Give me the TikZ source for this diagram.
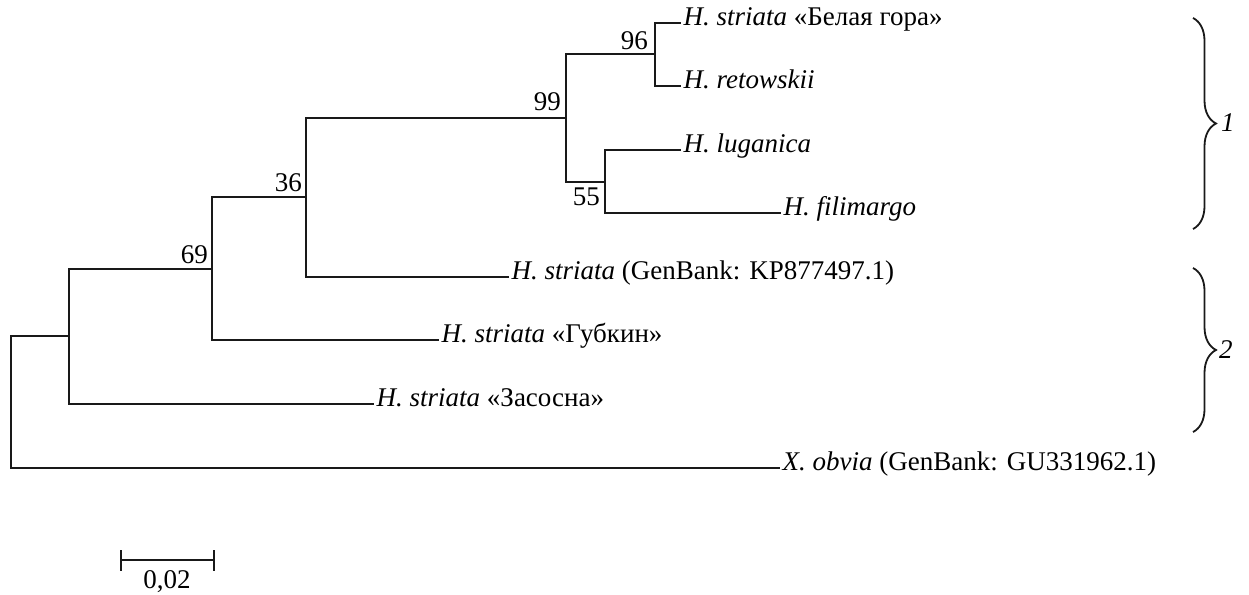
\documentclass[tikz,border=0pt]{standalone}
\usepackage{fontspec}
\setmainfont{Liberation Serif}
\usetikzlibrary{decorations.pathreplacing}
\newcommand{\treefont}{\fontsize{27}{32}\selectfont}
\begin{document}
\begin{tikzpicture}[x=1pt,y=-1pt,
  branch/.style={line width=2.9pt, line cap=rect, line join=miter, draw=black!90},
  leaf/.style={anchor=mid west, inner xsep=3.5pt, inner ysep=0pt, font=\treefont},
  support/.style={anchor=base east, inner sep=0pt, font=\treefont},
  clade/.style={decorate, decoration={brace, amplitude=23pt}, line width=1.8pt, draw=black!90},
  cladenum/.style={anchor=west, inner sep=0pt, font=\treefont\itshape}]
\useasboundingbox (0,0) rectangle (1249,594);

% internal nodes (x = node depth, y = attachment height)
\coordinate (root) at (11,402);
\coordinate (n1)   at (69,336);
\coordinate (n69)  at (212,269);
\coordinate (n36)  at (306,197);
\coordinate (n99)  at (566,118);
\coordinate (n96)  at (655,54);
\coordinate (n55)  at (605,182);

% terminal taxa
\node[leaf] (bel) at (680,23)  {\textit{H. striata} «Белая гора»};
\node[leaf] (ret) at (680,86)  {\textit{H. retowskii}};
\node[leaf] (lug) at (680,150) {\textit{H. luganica}};
\node[leaf] (fil) at (780,213) {\textit{H. filimargo}};
\node[leaf] (kp)  at (508,277) {\textit{H. striata} (GenBank: KP877497.1)};
\node[leaf] (gub) at (438,340) {\textit{H. striata} «Губкин»};
\node[leaf] (zas) at (373,404) {\textit{H. striata} «Засосна»};
\node[leaf] (xob) at (779,468) {\textit{X. obvia} (GenBank: GU331962.1)};

% branches
\draw[branch] (root) |- (n1);
\draw[branch] (root) |- (xob.mid west);
\draw[branch] (n1)  |- (n69);
\draw[branch] (n1)  |- (zas.mid west);
\draw[branch] (n69) |- (n36);
\draw[branch] (n69) |- (gub.mid west);
\draw[branch] (n36) |- (n99);
\draw[branch] (n36) |- (kp.mid west);
\draw[branch] (n99) |- (n96);
\draw[branch] (n99) |- (n55);
\draw[branch] (n96) |- (bel.mid west);
\draw[branch] (n96) |- (ret.mid west);
\draw[branch] (n55) |- (lug.mid west);
\draw[branch] (n55) |- (fil.mid west);

% bootstrap support values
\node[support] (s69) at (208,263) {69};
\node[support] (s36) at (302,191) {36};
\node[support] (s99) at (561,110) {99};
\node[support] (s96) at (648,49)  {96};
\node[support] (s55) at (600,205) {55};

% clade brackets
\coordinate (b1t) at (1193,18);
\coordinate (b1b) at (1193,229);
\coordinate (b2t) at (1193,268);
\coordinate (b2b) at (1193,432);
\draw[clade] (b1t) -- (b1b);
\draw[clade] (b2t) -- (b2b);
\node[cladenum] (c1) at (1221,123) {1};
\node[cladenum] (c2) at (1219,350) {2};

% scale bar
\coordinate (sbl) at (121,560);
\coordinate (sbr) at (214,560);
\draw[branch, line cap=butt] (sbl) -- (sbr);
\draw[branch, line cap=butt] ([yshift=10pt]sbl) -- ([yshift=-11pt]sbl);
\draw[branch, line cap=butt] ([yshift=10pt]sbr) -- ([yshift=-11pt]sbr);
\node[anchor=base, inner sep=0pt, font=\treefont] (sblab) at (167,588) {0,02};
\end{tikzpicture}
\end{document}
